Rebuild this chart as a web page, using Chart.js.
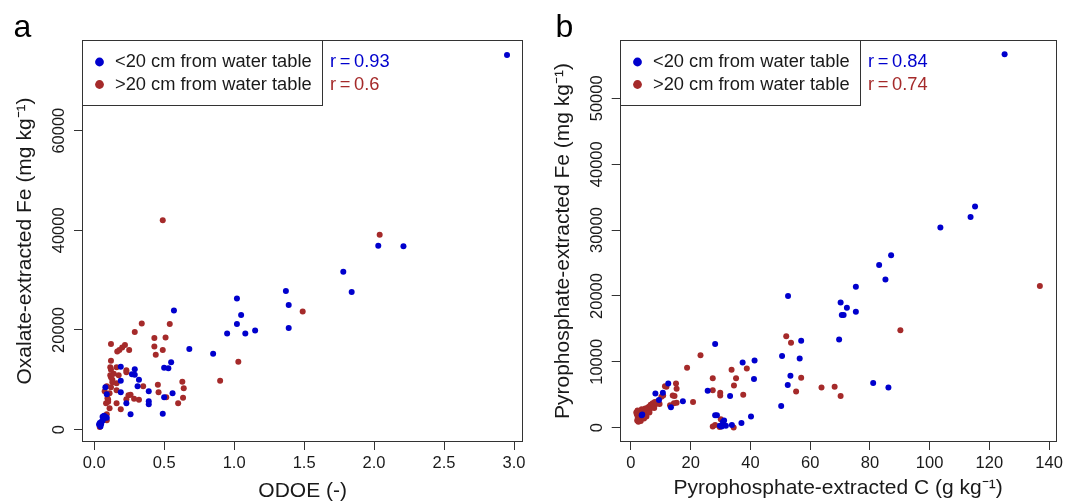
<!DOCTYPE html>
<html><head><meta charset="utf-8">
<script src="https://cdn.jsdelivr.net/npm/chart.js@4.4.0/dist/chart.umd.min.js"></script>
<style>
html,body{margin:0;padding:0;background:#fff;}
#wrap{position:relative;width:1067px;height:502px;overflow:hidden;background:#fff;}
canvas{position:absolute;top:0;}
#ca{left:0;}
#cb{left:533px;}
</style></head><body>
<div id="wrap"><canvas id="ca" width="533" height="502"></canvas><canvas id="cb" width="534" height="502"></canvas></div>
<script>
// ---------- data ----------
const seriesLabels = ['<20 cm from water table', '>20 cm from water table'];
const rValuesA = ['0.93', '0.6'];
const rValuesB = ['0.84', '0.74'];

// tick labels
const xTicksA = [0, 0.5, 1.0, 1.5, 2.0, 2.5, 3.0];
const yTicksA = [0, 20000, 40000, 60000];
const xTicksB = [0, 20, 40, 60, 80, 100, 120, 140];
const yTicksB = [0, 10000, 20000, 30000, 40000, 50000];

// panel a: ODOE (-) vs oxalate-extracted Fe (mg/kg)
const odoeNear = [2.95,2.03,2.21,1.78,1.84,1.37,1.39,1.39,1.02,1.05,1.02,0.95,1.08,1.15,0.85,0.68,0.57,0.55,0.50,0.53,0.56,0.50,0.49,0.39,0.39,0.39,0.31,0.32,0.29,0.29,0.27,0.19,0.19,0.19,0.23,0.26,0.09,0.08,0.035,0.045,0.05,0.05,0.06,0.06,0.07,0.07,0.08,0.09,0.04];
const feOxNear = [75200,36900,36800,31700,27600,27800,25000,20400,26300,23000,21200,19300,19300,19900,15200,16200,23900,13500,12400,12300,7300,6500,3200,7700,5700,5100,8700,10000,12100,11000,11100,12600,9800,7500,5300,3100,7100,8500,1000,600,1100,1500,1800,2600,2300,2800,2600,2400,1300];
const odoeFar = [0.49,2.04,1.49,1.03,0.90,0.34,0.29,0.54,0.51,0.43,0.43,0.44,0.49,0.12,0.22,0.20,0.18,0.165,0.25,0.12,0.115,0.16,0.23,0.23,0.115,0.12,0.13,0.175,0.16,0.09,0.12,0.075,0.11,0.16,0.095,0.085,0.11,0.16,0.19,0.245,0.26,0.285,0.32,0.35,0.23,0.455,0.46,0.515,0.60,0.63,0.64,0.635,0.09,0.09,0.04,0.10,0.10,0.13,0.14,0.12];
const feOxFar = [42000,39100,23700,13600,9800,21300,19600,21200,18500,18400,16700,15000,16000,17200,17000,16500,16000,15700,16000,13800,12500,12500,11900,11500,10900,10500,10000,10900,9300,8700,8500,7700,7300,7900,6300,5300,4300,5300,4100,6900,7000,6200,6000,8700,6100,9000,7500,6500,5300,9600,8300,6400,3100,1900,500,6000,5600,9500,11200,12000];

// panel b: pyrophosphate-extracted C (g/kg) vs pyrophosphate-extracted Fe (mg/kg)
const cPyNear = [125.1,115.2,113.7,103.6,87.1,83.1,85.2,75.3,75.3,70.2,72.3,70.6,71.2,69.7,52.6,57.0,56.5,50.6,53.4,52.5,50.3,81.1,86.2,41.4,37.4,41.2,33.2,40.2,37.0,33.8,28.2,25.7,28.2,28.8,30.8,31.2,29.8,31.8,30.4,17.4,13.4,12.5,10.7,8.2,9.4,3.6,3.8];
const fePyNear = [56700,33600,32000,30400,26200,24700,22500,21400,17600,19000,18200,17100,17100,13400,20000,13200,10500,10900,7900,6500,3300,6800,6100,10200,9900,7400,4800,1700,700,400,12700,5600,1900,1900,900,1100,300,300,200,4000,3100,6700,5300,5200,4200,1900,2000];
const cPyFar = [136.9,90.2,52.0,53.6,57.0,55.3,63.8,68.2,70.2,23.3,18.8,20.8,33.7,38.8,35.2,27.4,27.4,34.5,29.9,29.9,37.6,30.1,27.4,28.2,29.7,34.4,15.1,15.3,14.0,14.6,15.3,14.4,13.1,11.9,11.4,
  2.0,2.3,2.6,2.8,3.0,3.2,3.3,3.6,3.8,4.0,4.2,4.4,4.6,4.8,5.0,5.2,5.5,5.8,6.0,6.3,6.6,7.0,7.3,7.6,8.0,8.4,9.0,9.6,10.2,10.8,2.2,2.5,3.5,4.3,5.3,6.2,7.8,1.8,2.1];
const fePyFar = [21500,14800,13900,12900,7600,5500,6100,6200,4800,11000,9100,3900,8800,9000,7500,7500,5700,6400,5300,4900,5000,1300,200,400,100,50,6700,5900,4900,4800,3800,3700,3400,6200,6300,
  2000,1500,2500,1200,1800,2300,1000,2800,1600,2100,2600,1400,2000,2900,2400,1700,3000,2600,3200,2800,3500,3100,3700,3400,3900,3600,4000,3600,4700,4900,2600,900,2200,1800,2700,2300,3000,2300,1100];

// ---------- style ----------
const FONT = "'Liberation Sans', Arial, sans-serif";
const TXT = '#1a1a1a';
const FRAME = '#333333';
const BLUE = '#0000CD';
const RED = '#A52A2A';

function toPts(xs, ys){ return xs.map((x,i)=>({x:x, y:ys[i]})); }

const framePlugin = {
  id: 'frameAndExtras',
  afterDraw(chart, args, o) {
    const {ctx, chartArea: ca} = chart;
    ctx.save();
    // plot frame
    ctx.strokeStyle = FRAME; ctx.lineWidth = 1;
    const L = Math.round(ca.left)+0.5, T = Math.round(ca.top)+0.5, R = Math.round(ca.right)-0.5, B = Math.round(ca.bottom)-0.5;
    ctx.strokeRect(L, T, R-L, B-T);
    // rotated y tick labels (R style)
    const ys = chart.scales.y;
    ctx.fillStyle = TXT;
    ctx.font = '16.5px ' + FONT;
    ctx.textAlign = 'center'; ctx.textBaseline = 'middle';
    ys.ticks.forEach(t => {
      const py = ys.getPixelForValue(t.value);
      ctx.save(); ctx.translate(ca.left - o.yLabelGap, py); ctx.rotate(-Math.PI/2);
      ctx.fillText(String(t.value), 0, 0); ctx.restore();
    });
    // legend box
    const lx = L, ly = T, lw = o.legendW, lh = o.legendH;
    ctx.fillStyle = '#fff';
    ctx.fillRect(lx, ly, lw, lh);
    ctx.strokeStyle = FRAME;
    ctx.strokeRect(lx, ly, Math.round(lw), Math.round(lh));
    ctx.font = '18.3px ' + FONT;
    ctx.textAlign = 'left'; ctx.textBaseline = 'middle';
    const rowY = [ly + 21.5, ly + 44];
    chart.data.datasets.forEach((ds, i) => {
      ctx.fillStyle = ds.backgroundColor;
      ctx.beginPath(); ctx.arc(lx + 17, rowY[i], 4.4, 0, Math.PI*2); ctx.fill();
      ctx.fillStyle = TXT;
      ctx.fillText(ds.label, lx + 32.5, rowY[i]);
      ctx.fillStyle = ds.backgroundColor;
      ctx.fillText('r\u2009=\u2009' + o.rValues[i], lx + o.rOffset, rowY[i]);
    });
    // panel letter
    ctx.fillStyle = '#000';
    ctx.font = '32px ' + FONT;
    ctx.textAlign = 'left'; ctx.textBaseline = 'alphabetic';
    ctx.fillText(o.letter, o.letterX, 37);
    ctx.restore();
  }
};

function buildChart(id, p) {
  return new Chart(document.getElementById(id), {
    type: 'scatter',
    data: { datasets: [
      { label: seriesLabels[0], data: toPts(p.xNear, p.yNear), backgroundColor: BLUE, borderColor: BLUE, pointRadius: 3.0, pointBorderWidth: 0 },
      { label: seriesLabels[1], data: toPts(p.xFar, p.yFar), backgroundColor: RED, borderColor: RED, pointRadius: 3.0, pointBorderWidth: 0 }
    ]},
    options: {
      responsive: false, animation: false, devicePixelRatio: 1, events: [],
      layout: { padding: { left: 0, right: p.padRight, top: 40, bottom: 0 } },
      plugins: {
        legend: { display: false }, tooltip: { enabled: false },
        frameAndExtras: { yLabelGap: 22.5, legendW: 239.5, legendH: 65.3, rOffset: 247.5, rValues: p.rValues, letter: p.letter, letterX: p.letterX }
      },
      scales: {
        x: {
          type: 'linear', position: 'bottom', min: p.xMin, max: p.xMax,
          afterBuildTicks: s => { s.ticks = p.xTicks.map(v => ({ value: v })); },
          afterFit: s => { s.height = 60; },
          ticks: { autoSkip: false, maxRotation: 0, color: TXT, font: { family: FONT, size: 16.5 }, padding: 4, callback: p.xFmt },
          grid: { drawOnChartArea: false, drawTicks: true, tickLength: 8, color: FRAME, lineWidth: 1 },
          border: { display: false },
          title: { display: true, text: p.xTitle, color: TXT, font: { family: FONT, size: 21, lineHeight: 1 }, padding: { top: 0, bottom: p.xTitlePad } }
        },
        y: {
          type: 'linear', position: 'left', min: p.yMin, max: p.yMax,
          afterBuildTicks: s => { s.ticks = p.yTicks.map(v => ({ value: v })); },
          afterFit: s => { s.width = p.yAxisW; },
          ticks: { autoSkip: false, color: 'rgba(0,0,0,0)', font: { family: FONT, size: 12 }, callback: v => String(v) },
          grid: { drawOnChartArea: false, drawTicks: true, tickLength: 8, color: FRAME, lineWidth: 1 },
          border: { display: false },
          title: { display: true, text: p.yTitle, color: TXT, font: { family: FONT, size: 21, lineHeight: 1 }, padding: { top: p.yTitlePad, bottom: 0 } }
        }
      }
    },
    plugins: [framePlugin]
  });
}

buildChart('ca', {
  xNear: odoeNear, yNear: feOxNear, xFar: odoeFar, yFar: feOxFar, rValues: rValuesA,
  letter: 'a', letterX: 13.5, xTicks: xTicksA, yTicks: yTicksA,
  xMin: -0.087, xMax: 3.067, xFmt: v => v.toFixed(1),
  yMin: -2490, yMax: 78200,
  xTitle: 'ODOE (-)', yTitle: 'Oxalate-extracted Fe (mg kg\u207B\u00B9)',
  padRight: 9.6, yAxisW: 82, xTitlePad: 0.5, yTitlePad: 15
});
buildChart('cb', {
  xNear: cPyNear, yNear: fePyNear, xFar: cPyFar, yFar: fePyFar, rValues: rValuesB,
  letter: 'b', letterX: 22.5, xTicks: xTicksB, yTicks: yTicksB,
  xMin: -3.75, xMax: 142.5, xFmt: v => String(v),
  yMin: -2170, yMax: 58860,
  xTitle: 'Pyrophosphate-extracted C (g kg\u207B\u00B9)', yTitle: 'Pyrophosphate-extracted Fe (mg kg\u207B\u00B9)',
  padRight: 6.2, yAxisW: 86.7, xTitlePad: 3.5, yTitlePad: 19.7
});
</script>
</body></html>
